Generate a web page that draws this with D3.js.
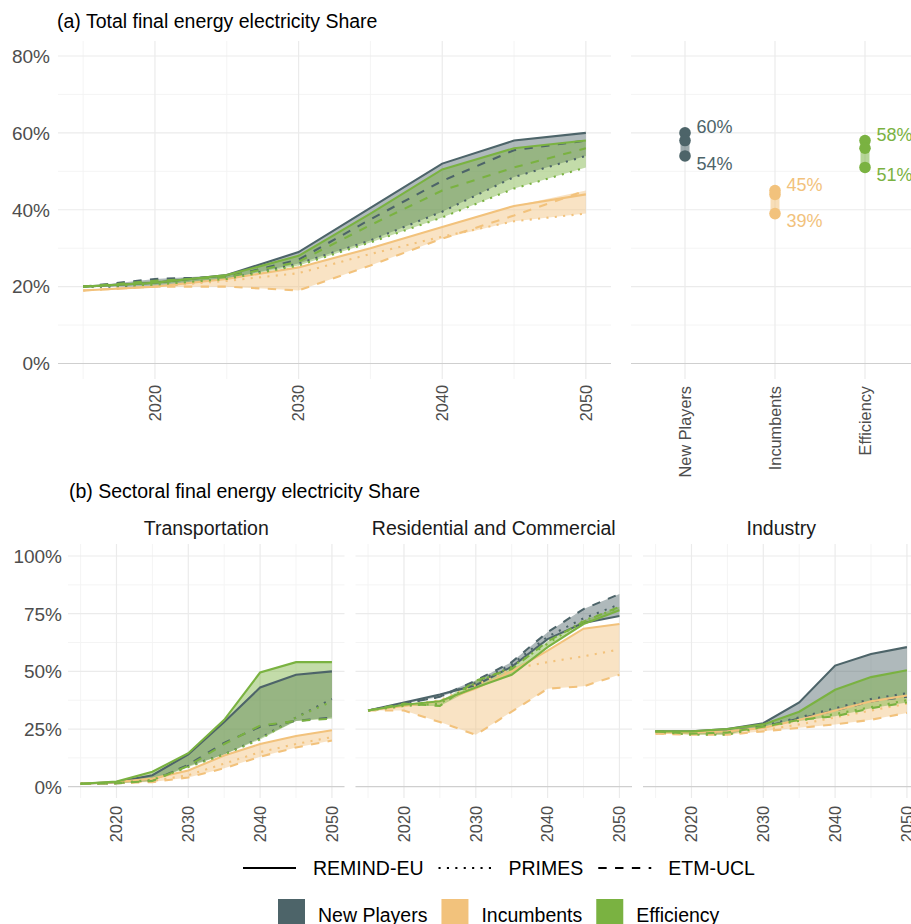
<!DOCTYPE html>
<html>
<head>
<meta charset="utf-8">
<script src="https://cdn.jsdelivr.net/npm/d3@7"></script>
<style>
  body { margin: 0; background: #fff; }
  svg { display: block; font-family: "Liberation Sans", Arial, sans-serif; }
</style>
</head>
<body>
<svg id="chart" width="911" height="924"></svg>
<script>
// ---- data (electricity share of final energy, %) ----
const years = [2015, 2020, 2025, 2030, 2035, 2040, 2045, 2050];
const scenarios = ["New Players", "Incumbents", "Efficiency"];
const models = ["REMIND-EU", "PRIMES", "ETM-UCL"];
const scenarioColors = ["#4d6469", "#f2c27c", "#7ab241"];

const totalShare = [
  ["New Players", "REMIND-EU", [20, 21, 23, 29, 40.5, 52, 58, 60]],
  ["New Players", "PRIMES",    [20, 20, 22, 26, 32, 39.5, 48.5, 54]],
  ["New Players", "ETM-UCL",   [20, 22, 22.5, 27, 37.5, 47.5, 55.5, 58]],
  ["Incumbents",  "REMIND-EU", [19, 20, 22, 25, 30, 35.5, 41, 44]],
  ["Incumbents",  "PRIMES",    [19, 20, 21.5, 23.5, 28.5, 33, 37, 39]],
  ["Incumbents",  "ETM-UCL",   [19, 20, 20, 19, 25.5, 32.5, 38.5, 45]],
  ["Efficiency",  "REMIND-EU", [20, 21, 23, 28, 39, 50.5, 56, 58]],
  ["Efficiency",  "PRIMES",    [20, 20.5, 22, 25.5, 31.5, 38, 45.5, 51]],
  ["Efficiency",  "ETM-UCL",   [20, 21.5, 22.5, 26.5, 36, 45, 51, 56]]
];

const transportShare = [
  ["New Players", "REMIND-EU", [1.3, 2, 5, 14, 28, 43, 48.5, 50]],
  ["New Players", "PRIMES",    [1.3, 1.5, 3, 9, 14, 21, 30, 38]],
  ["New Players", "ETM-UCL",   [1.3, 1.5, 2.5, 9.5, 19, 26, 28.5, 30]],
  ["Incumbents",  "REMIND-EU", [1.3, 2, 3.5, 7, 13.5, 18.5, 22, 24.5]],
  ["Incumbents",  "PRIMES",    [1.3, 1.5, 2.5, 5, 10, 15, 18.5, 21.5]],
  ["Incumbents",  "ETM-UCL",   [1.3, 1.5, 2, 4, 8, 13, 17, 20]],
  ["Efficiency",  "REMIND-EU", [1.3, 2.2, 6.5, 14.5, 29, 49.5, 54, 54]],
  ["Efficiency",  "PRIMES",    [1.3, 1.5, 3, 8.5, 14, 20.5, 30, 37]],
  ["Efficiency",  "ETM-UCL",   [1.3, 1.5, 2.5, 9, 18.5, 26.5, 28.5, 29.5]]
];

const residentialShare = [
  ["New Players", "REMIND-EU", [33, 36.5, 40, 44, 52, 64, 71, 74]],
  ["New Players", "PRIMES",    [33, 36, 39, 45, 53, 65, 73, 79]],
  ["New Players", "ETM-UCL",   [33, 36, 39, 46, 54, 67, 77, 83.5]],
  ["Incumbents",  "REMIND-EU", [33, 35, 37, 42.5, 50, 59, 68.5, 70.5]],
  ["Incumbents",  "PRIMES",    [33, 35, 37.5, 44, 51, 54, 56.5, 59.5]],
  ["Incumbents",  "ETM-UCL",   [33, 33, 28, 22.5, 32.5, 42.5, 43.5, 48.5]],
  ["Efficiency",  "REMIND-EU", [33, 35.5, 37, 43, 48.5, 60.5, 70.5, 76.5]],
  ["Efficiency",  "PRIMES",    [33, 35, 36, 45, 52, 62, 72, 77.5]],
  ["Efficiency",  "ETM-UCL",   [33, 36, 35, 46, 51, 63, 71.5, 78]]
];

const industryShare = [
  ["New Players", "REMIND-EU", [24, 24, 25, 27.5, 36.5, 52.5, 57.5, 60.5]],
  ["New Players", "PRIMES",    [24, 23, 23, 26.5, 30, 34, 38, 40.5]],
  ["New Players", "ETM-UCL",   [24, 23.5, 24, 26, 29.5, 33, 37, 39]],
  ["Incumbents",  "REMIND-EU", [23.5, 23.5, 24, 25.5, 29, 33, 37, 39.5]],
  ["Incumbents",  "PRIMES",    [23, 23, 23, 24.5, 27, 30, 33, 36]],
  ["Incumbents",  "ETM-UCL",   [23, 22.5, 22.5, 24, 25.5, 27, 29, 32]],
  ["Efficiency",  "REMIND-EU", [24, 24, 25, 27, 32.5, 42, 47.5, 50.5]],
  ["Efficiency",  "PRIMES",    [24, 22.5, 22.5, 26, 28.5, 31.5, 34.5, 37.5]],
  ["Efficiency",  "ETM-UCL",   [24, 23, 23.5, 26, 29, 30.5, 34, 36.5]]
];

const sectorNames = ["Transportation", "Residential and Commercial", "Industry"];
const xTicks = [2020, 2030, 2040, 2050];
const xMinorTicks = [2015, 2025, 2035, 2045];
const yTicksTotal = [0, 20, 40, 60, 80];
const yMinorTotal = [10, 30, 50, 70];
const yTicksSector = [0, 25, 50, 75, 100];
const yMinorSector = [12.5, 37.5, 62.5, 87.5];

// ---- styling ----
const LW = 2.1;
const dashFor = { "REMIND-EU": null, "PRIMES": `${LW},${LW * 3}`, "ETM-UCL": `${LW * 4},${LW * 4}` };
const colorOf = d3.scaleOrdinal().domain(scenarios).range(scenarioColors);
const RIBBON_ALPHA = 0.45;
const GRID = "#ebebeb", GRID_MINOR = "#f3f3f3", ZERO = "#cfcfcf";
const TICK_COL = "#4d4d4d";
const fmtPct = v => d3.format(".0f")(v) + "%";

const svg = d3.select("#chart");

function grid(g, x, y, xs, xsMinor, ys, ysMinor, x0, x1, y0, y1) {
  g.append("g").selectAll("line").data(ysMinor).join("line")
    .attr("x1", x0).attr("x2", x1).attr("y1", d => y(d)).attr("y2", d => y(d))
    .attr("stroke", GRID_MINOR).attr("stroke-width", 0.9);
  g.append("g").selectAll("line").data(xsMinor).join("line")
    .attr("y1", y0).attr("y2", y1).attr("x1", d => x(d)).attr("x2", d => x(d))
    .attr("stroke", GRID_MINOR).attr("stroke-width", 0.9);
  g.append("g").selectAll("line").data(ys.filter(v => v !== 0)).join("line")
    .attr("x1", x0).attr("x2", x1).attr("y1", d => y(d)).attr("y2", d => y(d))
    .attr("stroke", GRID).attr("stroke-width", 1.2);
  g.append("g").selectAll("line").data(xs).join("line")
    .attr("y1", y0).attr("y2", y1).attr("x1", d => x(d)).attr("x2", d => x(d))
    .attr("stroke", GRID).attr("stroke-width", 1.2);
  g.append("line").attr("x1", x0).attr("x2", x1).attr("y1", y(0)).attr("y2", y(0))
    .attr("stroke", ZERO).attr("stroke-width", 1.2);
}

function xLabels(g, x, ticks, top, size) {
  g.append("g").selectAll("text").data(ticks).join("text")
    .attr("transform", d => `translate(${x(d)},${top}) rotate(-90)`)
    .attr("text-anchor", "end").attr("dy", "0.35em")
    .attr("font-size", size).attr("fill", TICK_COL)
    .text(d => d);
}

function yLabels(g, y, ticks, right, size, fmt) {
  g.append("g").selectAll("text").data(ticks).join("text")
    .attr("x", right).attr("y", d => y(d)).attr("dy", "0.36em")
    .attr("text-anchor", "end").attr("font-size", size).attr("fill", TICK_COL)
    .text(fmt);
}

function seriesPanel(g, data, x, y) {
  // band spanning the three models for each scenario
  const area = d3.area().x(d => x(d.year)).y0(d => y(d.lo)).y1(d => y(d.hi));
  scenarios.forEach(s => {
    const rows = data.filter(r => r[0] === s);
    const band = years.map((yr, i) => {
      const vals = rows.map(r => r[2][i]);
      return { year: yr, lo: d3.min(vals), hi: d3.max(vals) };
    });
    g.append("path").datum(band).attr("d", area)
      .attr("fill", colorOf(s)).attr("fill-opacity", RIBBON_ALPHA);
  });
  const line = d3.line().x(d => x(d[0])).y(d => y(d[1]));
  scenarios.forEach(s => {
    data.filter(r => r[0] === s).forEach(r => {
      g.append("path").datum(years.map((yr, i) => [yr, r[2][i]]))
        .attr("d", line).attr("fill", "none")
        .attr("stroke", colorOf(s)).attr("stroke-width", LW)
        .attr("stroke-dasharray", dashFor[r[1]]);
    });
  });
}

// ---------- (a) total ----------
svg.append("text").attr("x", 57).attr("y", 28).attr("font-size", 19.5).attr("fill", "#000")
  .text("(a) Total final energy electricity Share");

const yA = d3.scaleLinear().domain([0, 80]).range([363.5, 56]);
const xA = d3.scaleLinear().domain([2013.25, 2051.75]).range([58, 611]);
const gA = svg.append("g");
grid(gA, xA, yA, xTicks, xMinorTicks, yTicksTotal, yMinorTotal, 58, 611, 41, 379);
seriesPanel(gA, totalShare, xA, yA);
yLabels(gA, yA, yTicksTotal, 50, 19, fmtPct);
xLabels(gA, xA, xTicks, 385, 16.3);

// 2050 range per scenario
const xC = d3.scalePoint().domain(scenarios).range([631, 919]).padding(0.6);
const gC = svg.append("g");
grid(gC, xC, yA, scenarios, [], yTicksTotal, yMinorTotal, 631, 919, 41, 379);
const last = years.length - 1;
scenarios.forEach(s => {
  const vals = totalShare.filter(r => r[0] === s).map(r => r[2][last]);
  const lo = d3.min(vals), hi = d3.max(vals), cx = xC(s), col = colorOf(s);
  gC.append("line").attr("x1", cx).attr("x2", cx).attr("y1", yA(lo)).attr("y2", yA(hi))
    .attr("stroke", col).attr("stroke-opacity", 0.55).attr("stroke-width", 9);
  gC.selectAll(null).data(vals).join("circle")
    .attr("cx", cx).attr("cy", d => yA(d)).attr("r", 5.8).attr("fill", col);
  gC.append("text").attr("x", cx + 11.5).attr("y", yA(hi) - 6).attr("dy", "0.35em")
    .attr("font-size", 18).attr("fill", col).text(fmtPct(hi));
  gC.append("text").attr("x", cx + 11.5).attr("y", yA(lo) + 7.5).attr("dy", "0.35em")
    .attr("font-size", 18).attr("fill", col).text(fmtPct(lo));
});
xLabels(gC, xC, scenarios, 386, 16.3);

// ---------- (b) sectors ----------
svg.append("text").attr("x", 69).attr("y", 498).attr("font-size", 19.5).attr("fill", "#000")
  .text("(b) Sectoral final energy electricity Share");

const yB = d3.scaleLinear().domain([0, 100]).range([786.7, 556]);
const sectorData = [transportShare, residentialShare, industryShare];
const facetLeft = [68, 355.5, 643];
const facetW = 276.5;
sectorNames.forEach((name, k) => {
  const x0 = facetLeft[k], x1 = x0 + facetW;
  const xB = d3.scaleLinear().domain([2013.25, 2051.75]).range([x0, x1]);
  const g = svg.append("g");
  grid(g, xB, yB, xTicks, xMinorTicks, yTicksSector, yMinorSector, x0, x1, 544, 798);
  seriesPanel(g, sectorData[k], xB, yB);
  xLabels(g, xB, xTicks, 806, 16.3);
  g.append("text").attr("x", (x0 + x1) / 2).attr("y", 535).attr("text-anchor", "middle")
    .attr("font-size", 19.5).attr("fill", "#1a1a1a").text(name);
  if (k === 0) yLabels(g, yB, yTicksSector, 62, 19, fmtPct);
});

// ---------- legends ----------
const legLine = svg.append("g");
let lx = 243;
models.forEach(m => {
  legLine.append("line").attr("x1", lx).attr("x2", lx + 53).attr("y1", 868).attr("y2", 868)
    .attr("stroke", "#000").attr("stroke-width", LW).attr("stroke-dasharray", dashFor[m]);
  const t = legLine.append("text").attr("x", lx + 70).attr("y", 868).attr("dy", "0.36em")
    .attr("font-size", 19.5).attr("fill", "#000").text(m);
  lx = lx + 70 + t.node().getComputedTextLength() + 15;
});

const legFill = svg.append("g");
let fx = 278;
scenarios.forEach(s => {
  legFill.append("rect").attr("x", fx).attr("y", 899).attr("width", 27).attr("height", 27)
    .attr("fill", colorOf(s));
  const t = legFill.append("text").attr("x", fx + 40).attr("y", 915).attr("dy", "0.36em")
    .attr("font-size", 19.5).attr("fill", "#000").text(s);
  fx = fx + 40 + t.node().getComputedTextLength() + 14;
});
</script>
</body>
</html>
